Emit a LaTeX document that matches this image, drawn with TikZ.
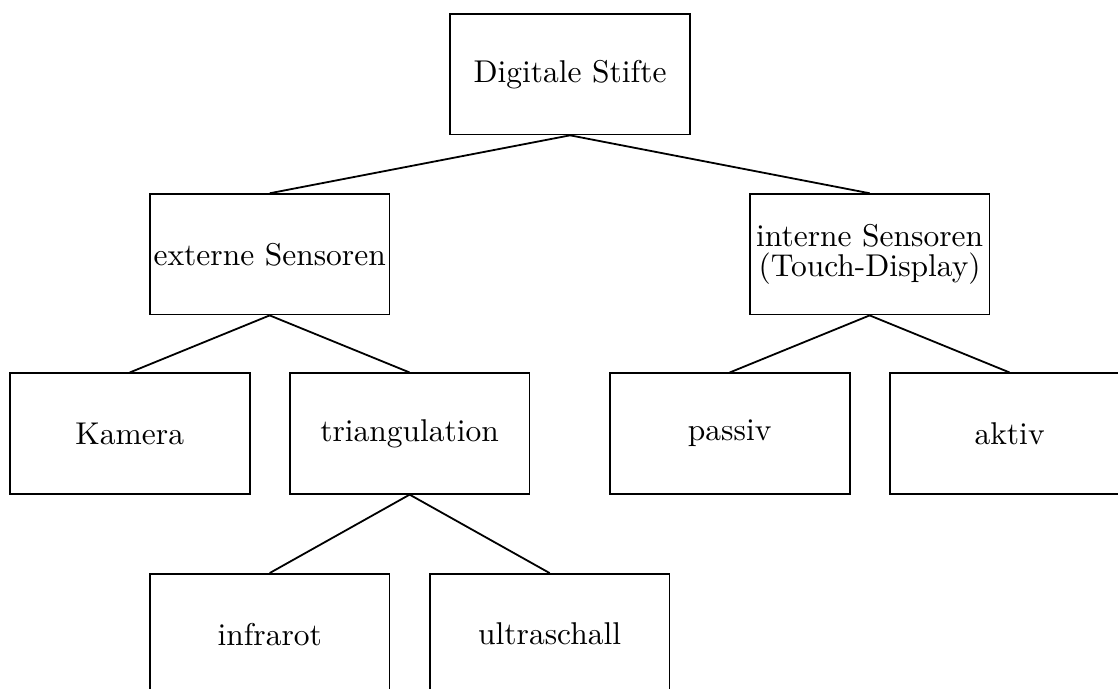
\documentclass[tikz,border=0pt]{standalone}
\begin{document}
\begin{tikzpicture}[scale=1]
		\tikzset{kasten/.style={draw,semithick,minimum width=2.81cm,minimum height=1.41cm,inner sep=0pt,align=center,font=\fontsize{10.5}{9.7}\selectfont}}
		\useasboundingbox (0,0) rectangle (13.1,-8.07);
		\clip (0,0) rectangle (13.1,-8.07);
		%levels of the tree
		\node[kasten] (root) at (6.68,-0.87) {Digitale Stifte};
		\node[kasten] (extern) at (3.16,-2.98) {externe Sensoren};
		\node[kasten] (intern) at (10.19,-2.98) {interne Sensoren\\(Touch-Display)};
		\node[kasten] (kamera) at (1.52,-5.08) {Kamera};
		\node[kasten] (triang) at (4.80,-5.08) {triangulation};
		\node[kasten] (passiv) at (8.55,-5.08) {passiv};
		\node[kasten] (aktiv) at (11.83,-5.08) {aktiv};
		\node[kasten] (infrarot) at (3.16,-7.43) {infrarot};
		\node[kasten] (ultraschall) at (6.44,-7.43) {ultraschall};
		%connections
		\draw[semithick] (root.south) -- (extern.north);
		\draw[semithick] (root.south) -- (intern.north);
		\draw[semithick] (extern.south) -- (kamera.north);
		\draw[semithick] (extern.south) -- (triang.north);
		\draw[semithick] (intern.south) -- (passiv.north);
		\draw[semithick] (intern.south) -- (aktiv.north);
		\draw[semithick] (triang.south) -- (infrarot.north);
		\draw[semithick] (triang.south) -- (ultraschall.north);
\end{tikzpicture}
\end{document}
